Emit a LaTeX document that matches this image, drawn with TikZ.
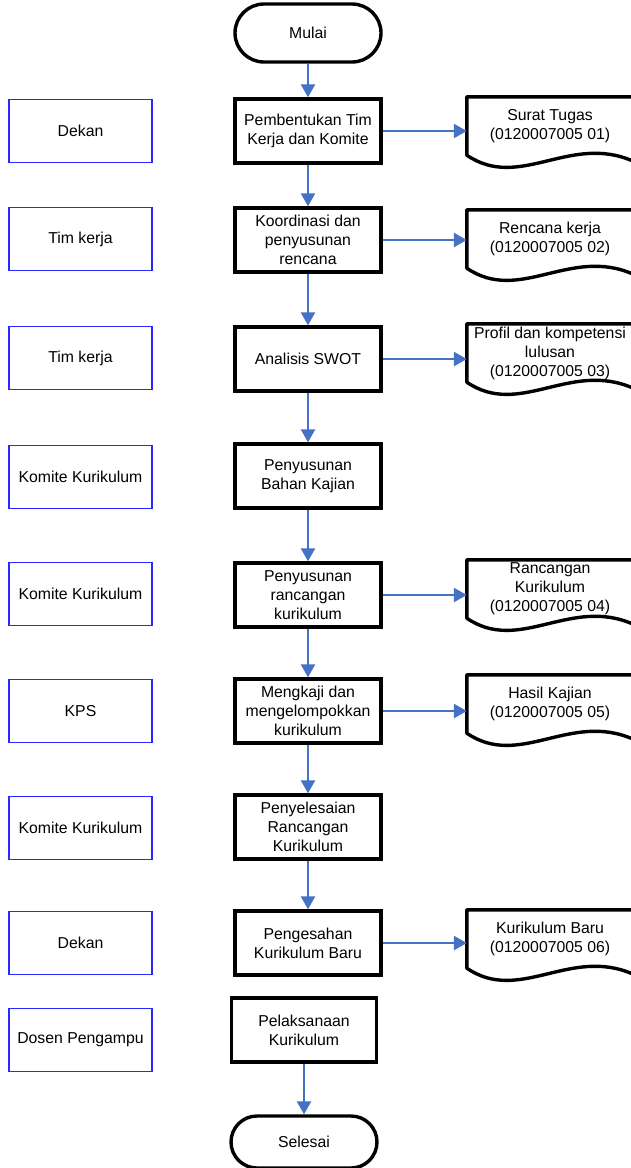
\documentclass[tikz,border=0pt]{standalone}
\usepackage{fontspec}
\setmainfont{Liberation Sans}
\usetikzlibrary{arrows.meta,positioning,calc}
\definecolor{arrowblue}{RGB}{68,114,196}
\definecolor{laneblue}{RGB}{40,40,255}

\newcommand{\docshape}[1]{% outline of a document node, wavy bottom
  \draw[line width=3.4bp, line join=round]
    (#1.north west) -- (#1.south west)
    .. controls ($(#1.south west)+(53,36)$) and ($(#1.south west)+(103,-22)$)
    .. ($(#1.south east)+(0,6)$) -- (#1.north east) -- cycle;}

\begin{document}
\begin{tikzpicture}[
            x=1bp, y=-1bp,
            font=\fontsize{15.8bp}{19bp}\selectfont,
                T/.style = {rectangle, draw, line width=3.4bp, % start / end
                            rounded corners=26bp,
                            minimum width=146bp, minimum height=58bp},
                P/.style = {rectangle, draw, line width=3.4bp, align=center, % process
                            minimum width=146bp, minimum height=64bp, inner sep=1bp},
                D/.style = {rectangle, align=center, inner sep=0pt, % document text
                            minimum width=166bp, minimum height=58bp},
                L/.style = {rectangle, draw=laneblue, line width=1.2bp, % who does it
                            minimum width=143bp, minimum height=63bp},
                A/.style = {draw=arrowblue, line width=2.5bp,
                            -{Triangle[length=13bp,width=14bp]}},
                ]
            \useasboundingbox (0,0) rectangle (631,1168);
            % main flow
            \node[T, rounded corners=29bp] (start) at (308,33) {Mulai};
            \node[P] (p1) at (308,131) {Pembentukan Tim\\Kerja dan Komite};
            \node[P] (p2) at (308,240) {Koordinasi dan\\penyusunan\\rencana};
            \node[P] (p3) at (308,359) {Analisis SWOT};
            \node[P] (p4) at (308,476) {Penyusunan\\Bahan Kajian};
            \node[P] (p5) at (308,595) {Penyusunan\\rancangan\\kurikulum};
            \node[P] (p6) at (308,711) {Mengkaji dan\\mengelompokkan\\kurikulum};
            \node[P] (p7) at (308,827) {Penyelesaian\\Rancangan\\Kurikulum};
            \node[P] (p8) at (308,943) {Pengesahan\\Kurikulum Baru};
            \node[P, minimum width=145bp] (p9) at (304,1030) {Pelaksanaan\\Kurikulum};
            \node[T, minimum height=52bp] (stop) at (304,1142) {Selesai};
            % who is in charge
            \foreach \y/\who [count=\i] in {131/Dekan, 239/Tim kerja, 358/Tim kerja,
                            477/Komite Kurikulum, 594/Komite Kurikulum, 711/KPS,
                            828/Komite Kurikulum, 943/Dekan, 1040/Dosen Pengampu}
                \node[L] (lane-\i) at (80.5,\y) {\who};
            % documents
            \node[D] (d1) at (550,126) {Surat Tugas\\(0120007005 01)};
            \node[D] (d2) at (550,239) {Rencana kerja\\(0120007005 02)};
            \node[D] (d3) at (550,353) {Profil dan kompetensi\\lulusan\\(0120007005 03)};
            \node[D] (d5) at (550,589) {Rancangan\\Kurikulum\\(0120007005 04)};
            \node[D] (d6) at (550,704) {Hasil Kajian\\(0120007005 05)};
            \node[D] (d8) at (550,939) {Kurikulum Baru\\(0120007005 06)};
            \foreach \d in {d1,d2,d3,d5,d6,d8}
                \docshape{\d};
            % arrows
            \foreach \a/\b in {start/p1,p1/p2,p2/p3,p3/p4,p4/p5,p5/p6,p6/p7,p7/p8,p9/stop}
                \draw[A] (\a) -- (\b);
            \foreach \i in {1,2,3,5,6,8}
                \draw[A] (p\i.east) -- (p\i.east -| d\i.west);
        \end{tikzpicture}
\end{document}
